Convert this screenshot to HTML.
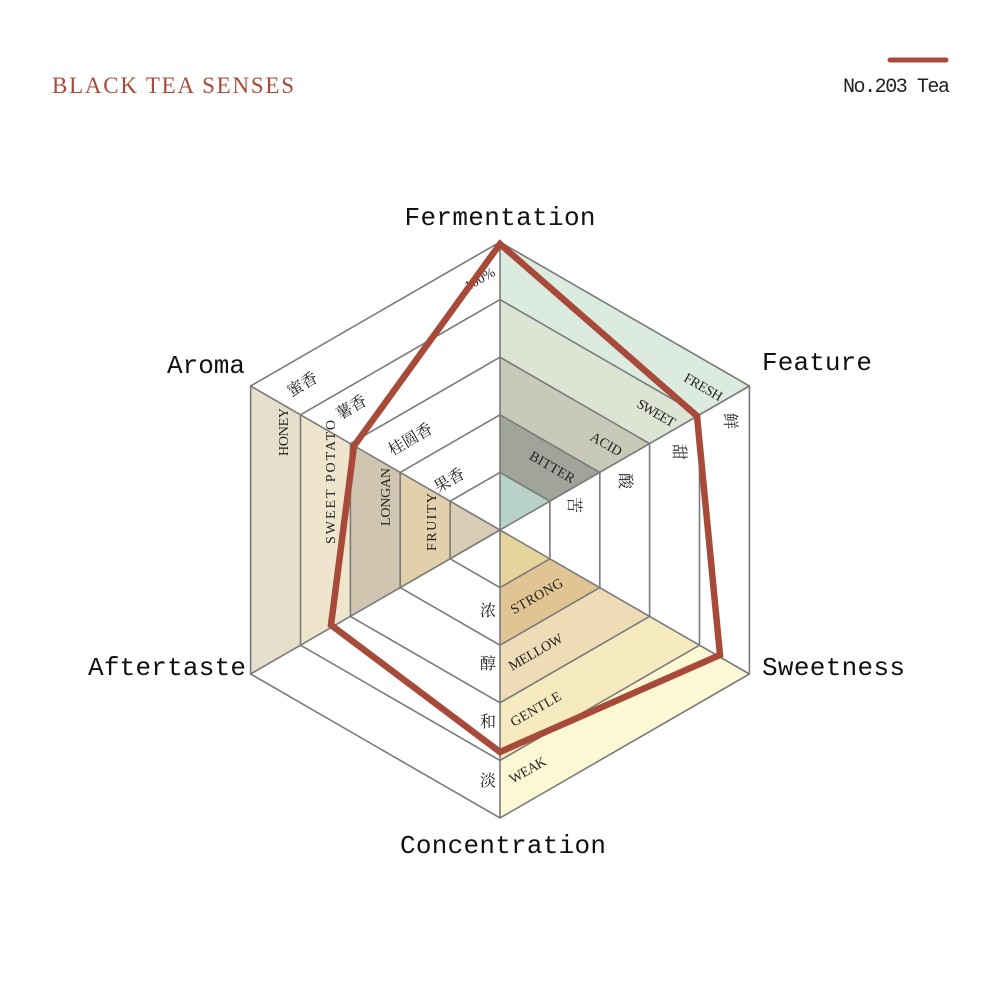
<!DOCTYPE html>
<html><head><meta charset="utf-8"><style>
html,body{margin:0;padding:0;background:#fff;}
svg{display:block}
.ax{font-family:"Liberation Mono","Noto Serif CJK SC",monospace;font-size:26px;fill:#111}
.bl{font-family:"Liberation Serif","Noto Serif CJK SC",serif;font-size:14px;fill:#222}
.cn{font-family:"Liberation Serif","Noto Serif CJK SC",serif;font-size:16px;fill:#222}
</style></head><body>
<svg width="1000" height="1000" viewBox="0 0 1000 1000" xmlns="http://www.w3.org/2000/svg">
<text x="52" y="93" font-family="Liberation Serif,serif" font-size="23" fill="#a84a3a" textLength="242">BLACK TEA SENSES</text>
<line x1="890" y1="60" x2="946" y2="60" stroke="#a84a3a" stroke-width="5" stroke-linecap="round"/>
<text x="843" y="92" font-family="Liberation Mono,monospace" font-size="20" fill="#222" textLength="107">No.203 Tea</text>

<polygon points="500,530 500,472.4 549.9,501.2" fill="#b9d2c8"/>
<polygon points="500,472.4 549.9,501.2 599.8,472.4 500,414.8" fill="#a0a49a"/>
<polygon points="500,414.8 599.8,472.4 649.6,443.6 500,357.2" fill="#c9c9b9"/>
<polygon points="500,357.2 649.6,443.6 699.5,414.8 500,299.6" fill="#dde4d4"/>
<polygon points="500,299.6 699.5,414.8 749.4,386 500,242" fill="#dcebdf"/>
<polygon points="500,530 450.1,501.2 450.1,558.8" fill="#d9cdb5"/>
<polygon points="450.1,501.2 450.1,558.8 400.2,587.6 400.2,472.4" fill="#e1d0a9"/>
<polygon points="400.2,472.4 400.2,587.6 350.4,616.4 350.4,443.6" fill="#d0c5b1"/>
<polygon points="350.4,443.6 350.4,616.4 300.5,645.2 300.5,414.8" fill="#efe4cc"/>
<polygon points="300.5,414.8 300.5,645.2 250.6,674 250.6,386" fill="#e6dfcb"/>
<polygon points="500,530 500,587.6 549.9,558.8" fill="#e5d49c"/>
<polygon points="500,587.6 549.9,558.8 599.8,587.6 500,645.2" fill="#e0c592"/>
<polygon points="500,645.2 599.8,587.6 649.6,616.4 500,702.8" fill="#eddcb6"/>
<polygon points="500,702.8 649.6,616.4 699.5,645.2 500,760.4" fill="#f6eac1"/>
<polygon points="500,760.4 699.5,645.2 749.4,674 500,818" fill="#fdf8d4"/>

<g fill="none" stroke="#7a7a7a" stroke-width="1.6">
<polygon points="500,472.4 549.9,501.2 549.9,558.8 500,587.6 450.1,558.8 450.1,501.2"/>
<polygon points="500,414.8 599.8,472.4 599.8,587.6 500,645.2 400.2,587.6 400.2,472.4"/>
<polygon points="500,357.2 649.6,443.6 649.6,616.4 500,702.8 350.4,616.4 350.4,443.6"/>
<polygon points="500,299.6 699.5,414.8 699.5,645.2 500,760.4 300.5,645.2 300.5,414.8"/>
<polygon points="500,242 749.4,386 749.4,674 500,818 250.6,674 250.6,386"/>
<path d="M500,530L500,242M500,530L749.4,386M500,530L749.4,674M500,530L500,818M500,530L250.6,674M500,530L250.6,386"/>
</g>

<g class="bl">
<text transform="translate(550,471) rotate(30)" text-anchor="middle" textLength="50">BITTER</text>
<text transform="translate(604,448) rotate(30)" text-anchor="middle" textLength="34">ACID</text>
<text transform="translate(654,417) rotate(30)" text-anchor="middle" textLength="42">SWEET</text>
<text transform="translate(701,391) rotate(30)" text-anchor="middle" textLength="42">FRESH</text>
<text transform="translate(436,522) rotate(-90)" text-anchor="middle" textLength="58">FRUITY</text>
<text transform="translate(390,497) rotate(-90)" text-anchor="middle" textLength="58">LONGAN</text>
<text transform="translate(335,482) rotate(-90)" text-anchor="middle" textLength="124">SWEET POTATO</text>
<text transform="translate(288,432) rotate(-90)" text-anchor="middle" textLength="48">HONEY</text>
<text transform="translate(539,600) rotate(-30)" text-anchor="middle" textLength="58">STRONG</text>
<text transform="translate(538,656) rotate(-30)" text-anchor="middle" textLength="60">MELLOW</text>
<text transform="translate(538,713) rotate(-30)" text-anchor="middle" textLength="56">GENTLE</text>
<text transform="translate(530,774) rotate(-30)" text-anchor="middle" textLength="40">WEAK</text>
<text transform="translate(482,283) rotate(-30)" text-anchor="middle">100%</text>
</g>
<g class="cn">
<text transform="translate(569,505) rotate(90)" text-anchor="middle">苦</text>
<text transform="translate(620,481) rotate(90)" text-anchor="middle">酸</text>
<text transform="translate(674,452) rotate(90)" text-anchor="middle">甜</text>
<text transform="translate(725,421) rotate(90)" text-anchor="middle">鲜</text>
<text transform="translate(452,485) rotate(-30)" text-anchor="middle">果香</text>
<text transform="translate(413,444) rotate(-30)" text-anchor="middle">桂圆香</text>
<text transform="translate(354,412) rotate(-30)" text-anchor="middle">薯香</text>
<text transform="translate(305,389) rotate(-30)" text-anchor="middle">蜜香</text>
<text x="488" y="616" text-anchor="middle">浓</text>
<text x="488" y="669" text-anchor="middle">醇</text>
<text x="488" y="727" text-anchor="middle">和</text>
<text x="488" y="786" text-anchor="middle">淡</text>
</g>

<polygon points="500,244 697,416 720,655 500,752 331,625 354,446" fill="none" stroke="#a84a3a" stroke-width="6.5" stroke-linejoin="miter"/>

<g class="ax">
<text x="500" y="225" text-anchor="middle" textLength="191">Fermentation</text>
<text x="762" y="370" textLength="110">Feature</text>
<text x="762" y="675" textLength="143">Sweetness</text>
<text x="503" y="853" text-anchor="middle" textLength="206">Concentration</text>
<text x="246" y="675" text-anchor="end" textLength="158">Aftertaste</text>
<text x="245" y="373" text-anchor="end" textLength="78">Aroma</text>
</g>
</svg>
</body></html>
